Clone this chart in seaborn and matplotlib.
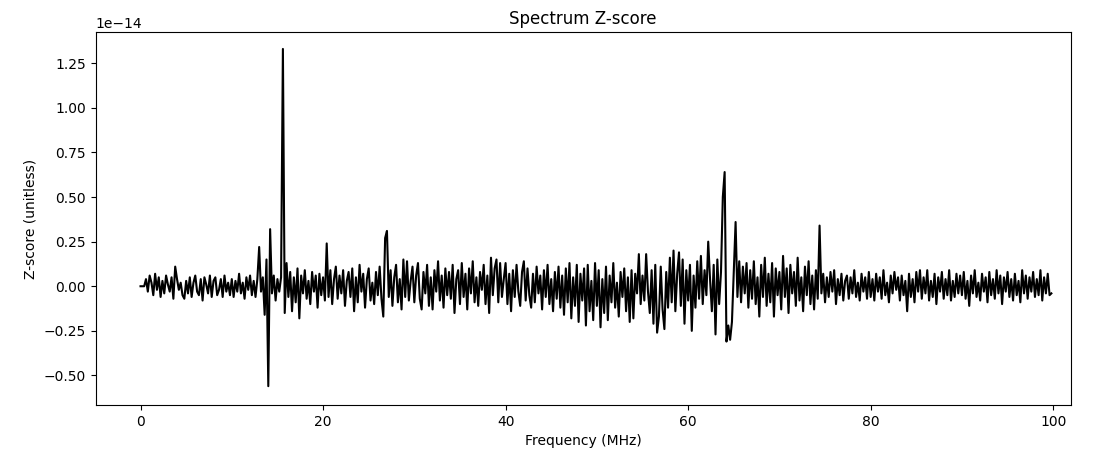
import numpy as np
import pandas as pd
import matplotlib
matplotlib.use("Agg")
import matplotlib.pyplot as plt
import seaborn as sns

# Z-score values in units of 1e-16, sampled every 0.2 MHz, one list per 10 MHz
seg_00_10 = [0, 0, 0, 4, -3, 6, 2, -5, 7, -2,
             5, -6, 3, -4, 6, 1, -3, 5, -7, 11,
             4, -2, 2, -5, -7, 3, -4, 5, -6, 2,
             6, -3, -5, 4, -8, 5, 1, -4, 6, -6,
             3, 5, -5, -2, 4, -6, 6, -3, 2, -5]
seg_10_20 = [4, -6, 3, -3, 7, -4, 2, -7, 5, -2,
             6, -5, 3, -6, 4, 22, -3, 5, -16, 15,
             -56, 32, -4, 6, -8, 4, -3, 5, 133, -15,
             13, -6, 8, -14, 5, -9, 10, -18, 6, -4,
             9, -7, 3, -10, 8, -3, 6, -12, 7, -5]
seg_20_30 = [5, -8, 24, -6, 9, -10, 4, 11, -7, 6,
             -4, 9, -11, 3, 8, -6, 10, -14, 5, -9,
             12, -3, 7, -12, 4, 10, -8, 2, -10, 8,
             -5, 11, -7, -17, 27, 31, -6, 9, -11, 5,
             12, -9, 4, -13, 15, -6, 14, -8, 3, 11]
seg_30_40 = [-9, 6, 13, -7, -13, 8, -4, 12, -11, 5,
             -13, 9, -3, 14, -8, 6, -12, 10, -5, 8,
             -7, 12, -15, 4, 9, -10, 13, -6, 7, -13,
             10, -4, 14, -9, 5, -11, 8, -2, 12, -10,
             6, -15, 16, -5, 10, 15, -9, 13, -6, 4]
seg_40_50 = [13, -10, 7, -14, 9, -6, 12, -3, -11, 8,
             14, -8, 10, -5, -12, 7, -9, 11, -4, 6,
             -13, 9, -6, 12, -10, 4, -14, 8, -7, 11,
             -12, 6, -16, 10, -9, 13, -18, 5, -11, 12,
             -20, 7, -8, 10, -22, 12, -14, 3, -19, 13]
seg_50_60 = [-11, 9, -23, 4, -15, 11, -19, 6, -9, 13,
             -12, 2, -17, 8, -6, 10, -14, 5, -20, 9,
             -18, 7, -4, 18, -10, 6, -8, 18, -3, -15,
             9, -21, 12, -26, -17, 11, -13, -24, 8, -12,
             16, -9, 20, -14, 7, 19, -11, 15, -21, 9]
seg_60_70 = [-8, 12, -25, 6, -12, 14, -7, 17, -10, 9,
             -5, 25, 4, -14, 12, -27, 15, -10, 8, 50,
             64, -31, -22, -30, -20, 8, 36, -6, 14, -9,
             11, -4, 13, -12, 9, -7, 14, -10, 5, -17,
             12, -6, 16, -11, 7, -9, 13, -17, 10, -5]
seg_70_80 = [8, -13, 17, -6, 10, -15, 12, -4, 8, -11,
             16, -8, 5, -14, 11, -5, 14, -10, 6, -13,
             9, -7, 34, -4, 7, -9, 5, -6, 8, -3,
             9, -10, 4, -5, 7, -8, 3, 6, -7, 5,
             -4, 9, -6, 2, -8, 7, -3, 5, -7, 8]
seg_80_90 = [-6, 4, -8, 7, -3, 5, -7, 9, -5, 2,
             -9, 6, -4, 8, -2, 5, -8, 6, -5, 3,
             -14, 7, -6, 4, -9, 8, -3, 9, -7, 5,
             -4, 9, -8, 3, -6, 7, -10, 5, -3, 8,
             -7, 4, -5, 9, -8, 3, -6, 7, -4, 6]
seg_90_100 = [-5, 8, -7, 3, -11, 6, -4, 9, -6, 2,
              -8, 7, -3, 5, -9, 8, -5, 4, -7, 9,
              -4, 6, -10, 5, -3, 8, -6, 4, -8, 7,
              -5, 3, -9, 9, -4, 6, -7, 5, -3, 8,
              -6, 4, -5, 9, -8, 5, -4, 7, -5, -4]

segments = [seg_00_10, seg_10_20, seg_20_30, seg_30_40, seg_40_50,
            seg_50_60, seg_60_70, seg_70_80, seg_80_90, seg_90_100]
zscore = np.concatenate([np.array(s, dtype=float) for s in segments]) * 1e-16
freq_step_mhz = 0.2
freq = np.arange(len(zscore)) * freq_step_mhz

df = pd.DataFrame({"Frequency (MHz)": freq, "Z-score (unitless)": zscore})

fig = plt.figure(figsize=(10.98, 4.57), dpi=100)
ax = fig.add_axes([0.087, 0.114, 0.888, 0.816])
sns.lineplot(data=df, x="Frequency (MHz)", y="Z-score (unitless)", color="black",
             linewidth=1.5, estimator=None, ax=ax)
ax.set_title("Spectrum Z-score")
ax.set_xlabel("Frequency (MHz)")
ax.set_ylabel("Z-score (unitless)")
ax.set_xticks([0, 20, 40, 60, 80, 100])
ax.set_yticks(np.array([-0.5, -0.25, 0, 0.25, 0.5, 0.75, 1.0, 1.25]) * 1e-14)
ax.set_xlim(-4.93, 101.9)
ax.set_ylim(-0.665e-14, 1.425e-14)
fig.savefig("out.png", dpi=100)
